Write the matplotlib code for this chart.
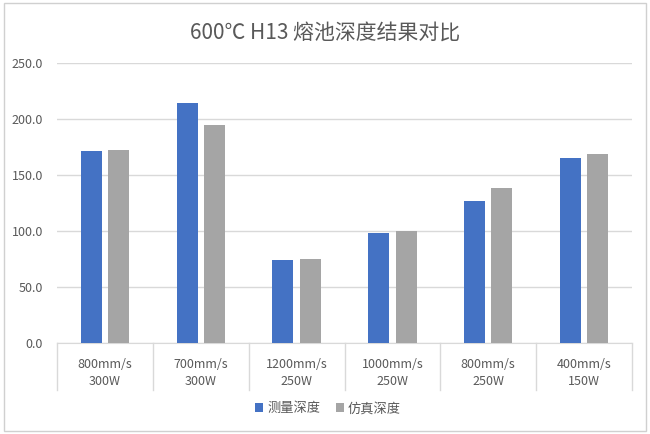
import matplotlib.pyplot as plt
import matplotlib.transforms as mtransforms
from matplotlib.patches import Rectangle
import numpy as np

plt.rcParams['font.family'] = ['Noto Sans CJK SC', 'DejaVu Sans']

# data
speeds = ['800mm/s', '700mm/s', '1200mm/s', '1000mm/s', '800mm/s', '400mm/s']
powers = ['300W', '300W', '250W', '250W', '250W', '150W']
measured = [171, 214, 74, 98, 127, 165]
simulated = [172, 195, 75, 100, 138, 169]
series_names = ['测量深度', '仿真深度']

BLUE = '#4472C4'
GREY = '#A5A5A5'
TXT = '#595959'
GRID = '#D9D9D9'

fig = plt.figure(figsize=(6.5, 4.34), dpi=100)
fig.patches.append(Rectangle((0.006, 0.008), 0.988, 0.985, transform=fig.transFigure,
                             fill=False, edgecolor='#D0D0D0', linewidth=1))

ax = fig.add_axes([0.0877, 0.2097, 0.8846, 0.6452])

x = np.arange(len(speeds))
w = 0.22
ax.bar(x - 0.143, measured, w, color=BLUE, label=series_names[0], zorder=3)
ax.bar(x + 0.143, simulated, w, color=GREY, label=series_names[1], zorder=3)

ax.set_xlim(-0.5, len(speeds) - 0.5)
ax.set_ylim(0, 250)
ax.set_yticks(np.arange(0, 251, 50))
ax.set_yticklabels([f'{v:.1f}' for v in np.arange(0, 251, 50)])
ax.tick_params(axis='y', length=0, labelsize=9, colors=TXT, pad=10)
ax.set_xticks([])
ax.grid(axis='y', color=GRID, linewidth=1, zorder=0)
for s in ['top', 'right', 'left']:
    ax.spines[s].set_visible(False)
ax.spines['bottom'].set_color(GRID)

# two-level category axis
trans = mtransforms.blended_transform_factory(ax.transData, ax.transAxes)
for i in range(len(speeds)):
    ax.text(i, -0.077, speeds[i], transform=trans, ha='center', va='center',
            fontsize=9, color=TXT)
    ax.text(i, -0.138, powers[i], transform=trans, ha='center', va='center',
            fontsize=9, color=TXT)
for i in range(len(speeds) + 1):
    ax.plot([i - 0.5, i - 0.5], [0, -0.168], transform=trans, color=GRID,
            linewidth=1, clip_on=False)

fig.text(0.5, 0.924, '600℃ H13 熔池深度结果对比', ha='center', va='center',
         fontsize=15, color=TXT)

fig.legend(loc='center', bbox_to_anchor=(0.505, 0.058), ncol=2, frameon=False,
           fontsize=9.5, labelcolor=TXT, handlelength=0.6, handleheight=0.6,
           handletextpad=0.3, columnspacing=1.2)

fig.savefig('out.png', dpi=100)
